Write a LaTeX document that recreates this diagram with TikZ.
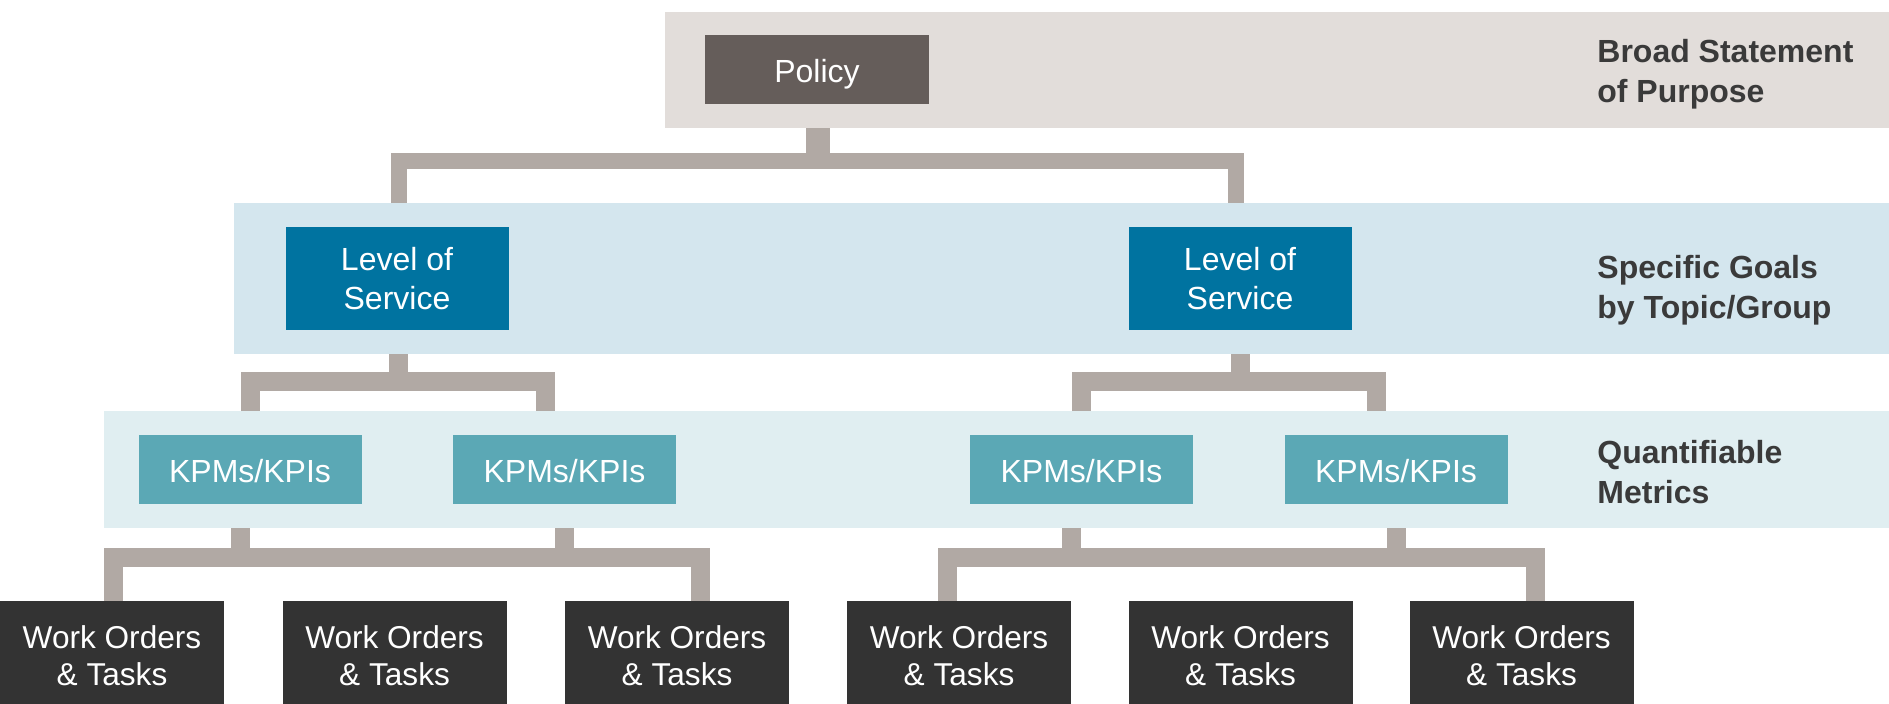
\documentclass[tikz,border=0pt]{standalone}
\usepackage{fontspec}
\setmainfont{Liberation Sans}
\definecolor{bandA}{HTML}{E2DDDA}
\definecolor{bandB}{HTML}{D4E6EE}
\definecolor{bandC}{HTML}{E0EEF1}
\definecolor{policyc}{HTML}{655D5A}
\definecolor{losc}{HTML}{0073A0}
\definecolor{kpic}{HTML}{5BA8B5}
\definecolor{workc}{HTML}{333333}
\definecolor{connc}{HTML}{B1A9A4}
\definecolor{labelc}{HTML}{3A3A3A}
\newcommand{\lowertext}[2]{\raisebox{-#1}[\height][\depth]{#2}}
\tikzset{
  band/.style={fill=#1, draw=none, inner sep=0pt, outer sep=0pt},
  boxbase/.style={draw=none, inner sep=0pt, outer sep=0pt, text=white, align=center,
     font=\fontsize{16pt}{19.5pt}\selectfont},
  policybox/.style={boxbase, fill=policyc, minimum width=112pt, minimum height=34.5pt},
  losbox/.style={boxbase, fill=losc, minimum width=111.5pt, minimum height=51.5pt},
  kpibox/.style={boxbase, fill=kpic, minimum width=111.5pt, minimum height=34.5pt},
  workbox/.style={boxbase, fill=workc, minimum width=112pt, minimum height=55pt,
     font=\fontsize{15.8pt}{18.5pt}\selectfont},
  sidelabel/.style={anchor=west, align=left, text=labelc, inner sep=0pt,
     font=\bfseries\fontsize{16pt}{20pt}\selectfont},
  conn/.style={draw=connc, line width=9.5pt},
}
\begin{document}
\begin{tikzpicture}[x=0.5pt,y=-0.5pt]
\path[use as bounding box] (0,0) rectangle (1889,703);
% bands
\path[band=bandA] (665,12) rectangle (1889,128);
\path[band=bandB] (234,203) rectangle (1889,354);
\path[band=bandC] (104,411) rectangle (1889,528);
\coordinate (bandAbot) at (0,128);
\coordinate (bandBtop) at (0,203);
\coordinate (bandBbot) at (0,354);
\coordinate (bandCtop) at (0,411);
\coordinate (bandCbot) at (0,528);
\coordinate (barA) at (0,161);
\coordinate (barB) at (0,381.5);
\coordinate (barC) at (0,557);
% nodes
\node[policybox] (policy) at (817,69.5) {\lowertext{2.5pt}{Policy}};
\node[losbox] (los1) at (397,278.5) {Level of\\Service};
\node[losbox] (los2) at (1240,278.5) {Level of\\Service};
\node[kpibox] (kpi1) at (250,469.5) {\lowertext{0.7pt}{KPMs/KPIs}};
\node[kpibox] (kpi2) at (564.5,469.5) {\lowertext{0.7pt}{KPMs/KPIs}};
\node[kpibox] (kpi3) at (1081.5,469.5) {\lowertext{0.7pt}{KPMs/KPIs}};
\node[kpibox] (kpi4) at (1396,469.5) {\lowertext{0.7pt}{KPMs/KPIs}};
\node[workbox] (w1) at (112,656) {Work Orders\\\& Tasks};
\node[workbox] (w2) at (394.5,656) {Work Orders\\\& Tasks};
\node[workbox] (w3) at (677,656) {Work Orders\\\& Tasks};
\node[workbox] (w4) at (959,656) {Work Orders\\\& Tasks};
\node[workbox] (w5) at (1240.5,656) {Work Orders\\\& Tasks};
\node[workbox] (w6) at (1521.5,656) {Work Orders\\\& Tasks};
% side labels
\node[sidelabel] (lab1) at (1597,74) {Broad Statement\\of Purpose};
\node[sidelabel] (lab2) at (1597,290.5) {Specific Goals\\by Topic/Group};
\node[sidelabel] (lab3) at (1597,472) {Quantifiable\\Metrics};
% top connector
\draw[draw=connc, line width=12pt] ([xshift=0.5pt]policy.south |- bandAbot) -- ([xshift=0.5pt]policy.south |- barA);
\draw[draw=connc, line width=8pt]
  ([xshift=1pt]los1.north |- bandBtop) -- ([xshift=1pt]los1.north |- barA)
  -- ([xshift=-2pt]los2.north |- barA) -- ([xshift=-2pt]los2.north |- bandBtop);
% middle connectors
\draw[conn] ([xshift=0.5pt]los1.south |- bandBbot) -- ([xshift=0.5pt]los1.south |- barB);
\draw[conn] (kpi1.north |- bandCtop) -- (kpi1.north |- barB)
  -- ([xshift=-9.75pt]kpi2.north |- barB) -- ([xshift=-9.75pt]kpi2.north |- bandCtop);
\draw[conn] (los2.south |- bandBbot) -- (los2.south |- barB);
\draw[conn] (kpi3.north |- bandCtop) -- (kpi3.north |- barB)
  -- ([xshift=-10pt]kpi4.north |- barB) -- ([xshift=-10pt]kpi4.north |- bandCtop);
% bottom connectors
\draw[conn] ([xshift=-5pt]kpi1.south |- bandCbot) -- ([xshift=-5pt]kpi1.south |- barC);
\draw[conn] (kpi2.south |- bandCbot) -- (kpi2.south |- barC);
\draw[conn] ([xshift=0.5pt]w1.north) -- ([xshift=0.5pt]w1.north |- barC)
  -- ([xshift=11.5pt]w3.north |- barC) -- ([xshift=11.5pt]w3.north);
\draw[conn] ([xshift=-5pt]kpi3.south |- bandCbot) -- ([xshift=-5pt]kpi3.south |- barC);
\draw[conn] (kpi4.south |- bandCbot) -- (kpi4.south |- barC);
\draw[conn] ([xshift=-6pt]w4.north) -- ([xshift=-6pt]w4.north |- barC)
  -- ([xshift=6.75pt]w6.north |- barC) -- ([xshift=6.75pt]w6.north);
\end{tikzpicture}
\end{document}
